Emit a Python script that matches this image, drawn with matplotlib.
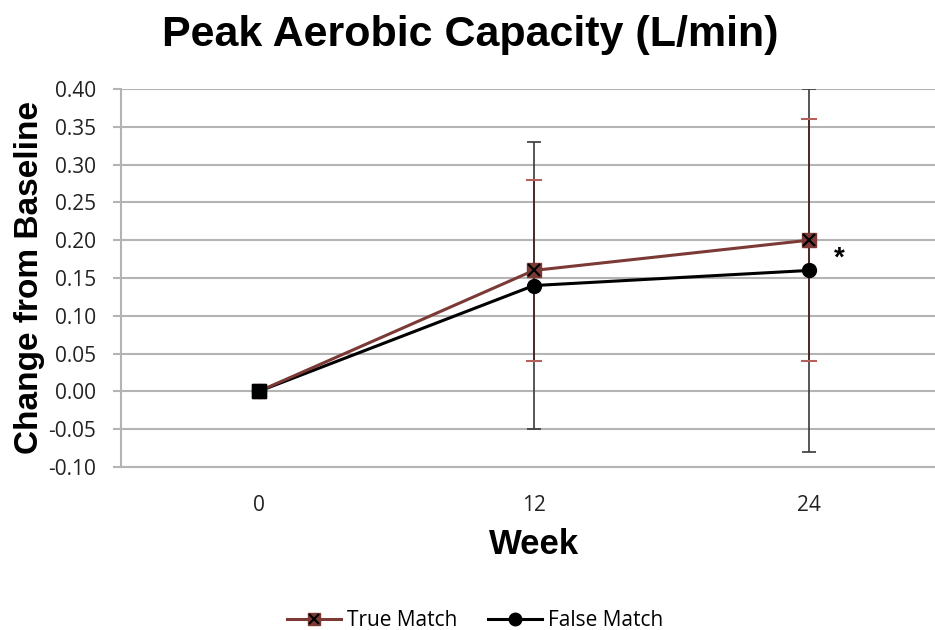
import matplotlib.pyplot as plt
from matplotlib.lines import Line2D
from matplotlib.legend_handler import HandlerTuple
import numpy as np

weeks = ['0', '12', '24']
true_match = [0.0, 0.16, 0.20]
true_err = [0.0, 0.12, 0.16]
false_match = [0.0, 0.14, 0.16]
false_err = [0.0, 0.19, 0.24]
yticks = [-0.10, -0.05, 0.00, 0.05, 0.10, 0.15, 0.20, 0.25, 0.30, 0.35, 0.40]

red = '#7b3a35'
capred = '#b5625c'
grid = '#b4b4b4'
tickfont = 'Open Sans'

fig = plt.figure(figsize=(9.35, 6.3), dpi=100)
ax = fig.add_axes([121 / 935, 1 - 467 / 630, 1 - 121 / 935, 378 / 630])

x = np.arange(len(weeks))

# error bars: false match behind, true match on top
ax.errorbar(x, false_match, yerr=false_err, fmt='none', ecolor='#3a3a3a',
            elinewidth=1.2, capsize=5, capthick=1.2, zorder=3)
ax.errorbar(x, true_match, yerr=true_err, fmt='none', ecolor='#4a2422',
            elinewidth=1.2, capsize=5, capthick=1.2, zorder=3.5)
# recolour the true match caps
for i in range(len(x)):
    if true_err[i] > 0:
        for yy in (true_match[i] - true_err[i], true_match[i] + true_err[i]):
            ax.plot([x[i] - 0.026, x[i] + 0.026], [yy, yy], color=capred, lw=1.5, zorder=3.6)

ax.plot(x, false_match, color='black', lw=2.2, marker='o', markersize=10, zorder=4)
ax.plot(x, true_match, color=red, lw=2.2, marker='s', markersize=10.5,
        markerfacecolor=red, markeredgecolor=red, zorder=5)
ax.plot(x, true_match, ls='none', marker='x', markersize=8.5, mew=1.6, color='black', zorder=6)
ax.plot([0], [0], ls='none', marker='s', markersize=10, color='black', zorder=7)

ax.text(2.11, 0.175, '*', fontsize=20, fontweight='bold', ha='center', va='center',
        family='Liberation Sans')

ax.set_xlim(-0.5, 2 + (935 - 809) / 275)
ax.set_ylim(-0.10, 0.40)
ax.set_yticks(yticks)
ax.set_yticklabels(['%.2f' % v for v in yticks], family=tickfont, fontsize=15, color='#222222')
ax.set_xticks(x)
ax.set_xticklabels(weeks, family=tickfont, fontsize=15, color='#222222')
ax.tick_params(axis='x', length=0, pad=20)
ax.tick_params(axis='y', length=6, width=1.5, color=grid, pad=12, direction='out')

ax.yaxis.grid(True, color=grid, lw=1.5)
ax.set_axisbelow(True)
for s in ['top', 'right']:
    ax.spines[s].set_visible(False)
ax.spines['left'].set_color(grid)
ax.spines['left'].set_linewidth(1.5)
ax.spines['bottom'].set_color(grid)
ax.spines['bottom'].set_linewidth(1.5)

fig.text(470 / 935, 1 - 35 / 630, 'Peak Aerobic Capacity (L/min)', ha='center', va='center',
         fontsize=31, fontweight='bold', family='Liberation Sans')
fig.text(30 / 935, 1 - 278 / 630, 'Change from Baseline', ha='center', va='center',
         rotation=90, fontsize=24, fontweight='bold', family='Liberation Sans')
fig.text(534 / 935, 1 - 545 / 630, 'Week', ha='center', va='center',
         fontsize=25, fontweight='bold', family='Liberation Sans')

h_true = (Line2D([], [], color=red, lw=2.2, marker='s', markersize=9, markerfacecolor=red,
                 markeredgecolor=red),
          Line2D([], [], ls='none', marker='x', markersize=7, mew=1.5, color='black'))
h_false = Line2D([], [], color='black', lw=2.2, marker='o', markersize=9)
fig.legend([h_true, h_false], ['True Match', 'False Match'],
           handler_map={tuple: HandlerTuple(ndivide=1, pad=0)},
           loc='center', bbox_to_anchor=(475 / 935, 1 - 621 / 630), ncol=2, frameon=False,
           prop={'family': tickfont, 'size': 15}, handlelength=2.6, handletextpad=0.25,
           columnspacing=1.5)

fig.savefig('out.png', dpi=100)
